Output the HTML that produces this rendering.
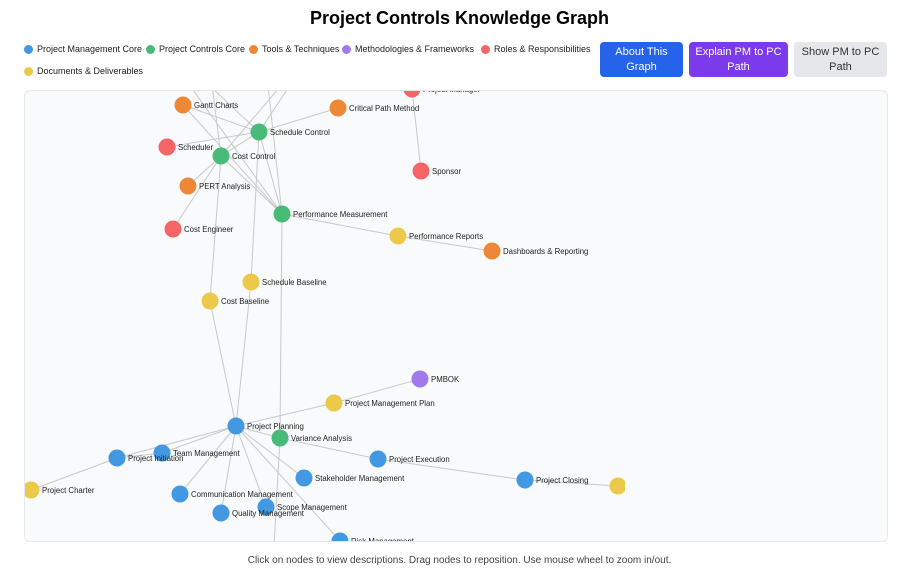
<!DOCTYPE html>
<html style="overflow:hidden;height:581px"><head><meta charset="utf-8"><style>
html,body{margin:0;width:919px;height:581px;overflow:hidden}
body{background:#fff;font-family:"Liberation Sans",sans-serif;position:relative}
h1{position:absolute;top:8px;left:0;width:919px;text-align:center;font-size:18px;font-weight:bold;margin:0;color:#000}
.leg{position:absolute;font-size:9px;color:#222;display:flex;align-items:center;white-space:nowrap}
.leg i{display:inline-block;width:9px;height:9px;border-radius:50%;margin-right:4px}
.btn{position:absolute;top:42px;height:35px;border-radius:4px;font-size:11px;text-align:center;display:flex;align-items:center;justify-content:center;line-height:15px}
#graph{position:absolute;left:24px;top:90px;width:862px;height:450px;border:1px solid #e5e7eb;border-radius:6px;background:#f9fafb;overflow:hidden}
#svg{display:block}
.foot{position:absolute;top:555px;left:0;width:919px;text-align:center;font-size:10px;color:#444}
</style></head><body>
<h1>Project Controls Knowledge Graph</h1>
<div class="leg" style="left:24px;top:44px"><i style="background:#4299e1"></i>Project Management Core</div>
<div class="leg" style="left:146px;top:44px"><i style="background:#48bb78"></i>Project Controls Core</div>
<div class="leg" style="left:249px;top:44px"><i style="background:#ed8936"></i>Tools &amp; Techniques</div>
<div class="leg" style="left:342px;top:44px"><i style="background:#9f7aea"></i>Methodologies &amp; Frameworks</div>
<div class="leg" style="left:481px;top:44px"><i style="background:#f56565"></i>Roles &amp; Responsibilities</div>
<div class="leg" style="left:24px;top:66px"><i style="background:#ecc94b"></i>Documents &amp; Deliverables</div>
<div class="btn" style="left:600px;width:83px;background:#2563eb;color:#fff">About This<br>Graph</div>
<div class="btn" style="left:689px;width:99px;background:#7c3aed;color:#fff">Explain PM to PC<br>Path</div>
<div class="btn" style="left:794px;width:93px;background:#e5e7eb;color:#333">Show PM to PC<br>Path</div>
<div id="graph">
<svg id="svg" width="862" height="450" xmlns="http://www.w3.org/2000/svg"><defs><clipPath id="cp"><rect x="0" y="0" width="600" height="450"/></clipPath></defs><g id="edges"></g><g id="nodes" clip-path="url(#cp)"></g></svg>
</div>
<div class="foot">Click on nodes to view descriptions. Drag nodes to reposition. Use mouse wheel to zoom in/out.</div>
<script>
const nodeNames=["Gantt Charts","Critical Path Method","Project Manager","Schedule Control","Scheduler","Cost Control","Sponsor","PERT Analysis","Performance Measurement","Cost Engineer","Performance Reports","Dashboards & Reporting","Schedule Baseline","Cost Baseline","PMBOK","Project Management Plan","Project Planning","Variance Analysis","Team Management","Project Initiation","Project Execution","Stakeholder Management","Project Closing","Project Charter","Communication Management","Scope Management","Quality Management","Risk Management","Project Closure Report","h1","h2","h3","h4","h5"];
const nodeGroups=["tool","tool","role","pc","role","pc","role","tool","pc","role","doc","tool","doc","doc","method","doc","pm","pc","pm","pm","pm","pm","pm","doc","pm","pm","pm","pm","doc","hid","hid","hid","hid","hid"];
const nodeX=[183,338,412,259,167,221,421,188,282,173,398,492,251,210,420,334,236,280,162,117,378,304,525,31,180,266,221,340,618,150,205,262,320,270];
const nodeY=[105,108,89,132,147,156,171,186,214,229,236,251,282,301,379,403,426,438,453,458,459,478,480,490,494,507,513,541,486,30,30,30,40,620];
const edgeList=[[2,6],[1,3],[0,3],[0,8],[4,3],[5,3],[5,7],[5,9],[5,8],[3,8],[8,10],[10,11],[3,12],[5,13],[13,16],[12,16],[8,17],[17,33],[16,15],[15,14],[16,17],[16,18],[16,19],[19,23],[16,24],[16,26],[16,25],[16,21],[16,27],[17,20],[20,22],[22,28],[29,3],[29,8],[30,5],[31,8],[32,5],[32,3],[18,19]];
const colors={pm:"#4299e1",pc:"#48bb78",tool:"#ed8936",method:"#9f7aea",role:"#f56565",doc:"#ecc94b"};
const OX=25,OY=91;
const sx=v=>v-OX, sy=v=>v-OY;
const NS="http://www.w3.org/2000/svg";
const eg=document.getElementById('edges'), ng=document.getElementById('nodes');
edgeList.forEach(([a,b])=>{
 const l=document.createElementNS(NS,'line');
 l.setAttribute('x1',sx(nodeX[a]));l.setAttribute('y1',sy(nodeY[a]));
 l.setAttribute('x2',sx(nodeX[b]));l.setAttribute('y2',sy(nodeY[b]));
 l.setAttribute('stroke','#c8c8c8');l.setAttribute('stroke-width','1');
 
 
 eg.appendChild(l);
});
nodeNames.forEach((n,i)=>{
 if(nodeGroups[i]==='hid')return;
 const g=document.createElementNS(NS,'g');
 
 
 const c=document.createElementNS(NS,'circle');
 c.setAttribute('cx',sx(nodeX[i]));c.setAttribute('cy',sy(nodeY[i]));c.setAttribute('r',8.5);
 c.setAttribute('fill',colors[nodeGroups[i]]);
 g.appendChild(c);
 if(i!==28){
 const t=document.createElementNS(NS,'text');
 t.setAttribute('x',sx(nodeX[i])+11);t.setAttribute('y',sy(nodeY[i])+3);
 t.setAttribute('font-size','7.8');t.setAttribute('fill','#222');
 t.setAttribute('font-family','Liberation Sans, sans-serif');
 t.textContent=n;g.appendChild(t);}
 ng.appendChild(g);
});
</script>
</body></html>
